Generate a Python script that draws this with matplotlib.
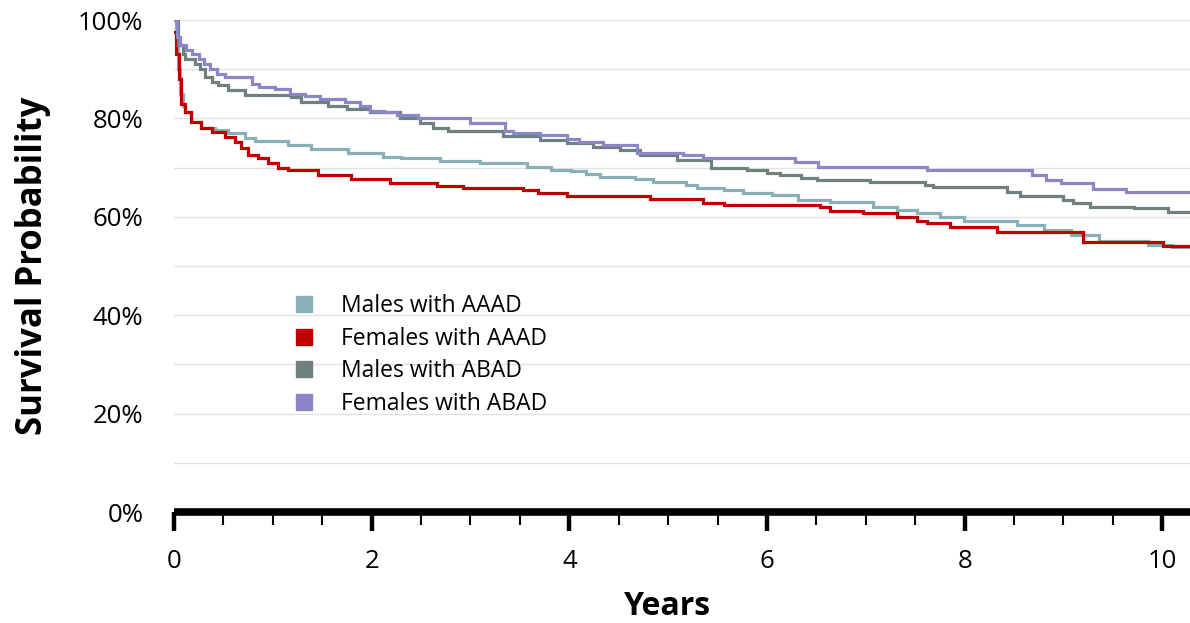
import matplotlib
matplotlib.use("Agg")
import matplotlib.pyplot as plt
from matplotlib.lines import Line2D
from matplotlib.ticker import MultipleLocator, FuncFormatter

plt.rcParams['font.family'] = ['Open Sans', 'DejaVu Sans']

# ---- data (years, survival %) : step functions ----
labels = ["Males with AAAD", "Females with AAAD", "Males with ABAD", "Females with ABAD"]
colors = ["#88b0b8", "#c00000", "#6e8080", "#8a86c8"]

m_aaad_t = [0.00, 0.02, 0.04, 0.06, 0.09, 0.11, 0.17, 0.27, 0.41, 0.55, 0.72, 0.82, 1.15, 1.39,
            1.76, 2.11, 2.30, 2.69, 3.10, 3.57, 3.81, 4.02, 4.17, 4.31, 4.66, 4.85, 5.18, 5.29,
            5.56, 5.76, 6.05, 6.31, 6.64, 7.07, 7.32, 7.52, 7.75, 7.99, 8.53, 8.80, 9.08, 9.36,
            9.85, 10.10]
m_aaad_s = [100.0, 96.0, 90.0, 85.0, 82.5, 81.3, 79.3, 78.0, 77.6, 77.0, 76.0, 75.4, 74.6, 73.8,
            73.0, 72.2, 72.0, 71.3, 71.0, 70.1, 69.5, 69.3, 68.8, 68.1, 67.7, 67.0, 66.5, 65.9,
            65.4, 64.8, 64.4, 63.4, 63.0, 62.0, 61.4, 60.8, 60.0, 59.2, 58.3, 57.3, 56.3, 55.0,
            54.3, 53.9]

f_aaad_t = [0.00, 0.02, 0.05, 0.07, 0.11, 0.17, 0.27, 0.38, 0.52, 0.62, 0.68, 0.75, 0.85, 0.95,
            1.05, 1.15, 1.46, 1.79, 2.19, 2.66, 2.92, 3.53, 3.68, 3.98, 4.82, 5.35, 5.56, 6.54,
            6.64, 6.97, 7.32, 7.52, 7.62, 7.85, 8.33, 9.20, 10.01]
f_aaad_s = [97.5, 93.0, 88.0, 83.0, 81.3, 79.3, 78.0, 77.2, 76.2, 75.2, 74.0, 72.5, 72.0, 71.0,
            70.0, 69.5, 68.5, 67.7, 66.9, 66.3, 65.9, 65.4, 64.9, 64.2, 63.6, 62.8, 62.4, 61.9,
            61.2, 60.8, 60.0, 59.2, 58.7, 57.9, 56.9, 54.9, 54.1]

m_abad_t = [0.00, 0.04, 0.09, 0.11, 0.21, 0.26, 0.31, 0.38, 0.45, 0.55, 0.72, 1.18, 1.29, 1.56,
            1.75, 1.98, 2.29, 2.49, 2.62, 2.77, 3.33, 3.70, 3.98, 4.24, 4.51, 4.72, 5.09, 5.43,
            5.80, 6.00, 6.13, 6.34, 6.51, 7.04, 7.60, 7.68, 8.43, 8.56, 9.00, 9.10, 9.27, 9.71,
            10.06]
m_abad_s = [100.0, 95.0, 93.0, 92.0, 91.0, 90.0, 88.5, 87.5, 86.8, 85.8, 84.8, 84.3, 83.3, 82.5,
            82.0, 81.3, 80.0, 79.0, 78.0, 77.4, 76.4, 75.6, 75.0, 74.2, 73.6, 72.5, 71.5, 70.0,
            69.5, 69.0, 68.5, 67.9, 67.5, 67.0, 66.5, 66.0, 65.0, 64.2, 63.4, 62.8, 62.0, 61.8,
            61.0]

f_abad_t = [0.00, 0.03, 0.06, 0.12, 0.18, 0.25, 0.30, 0.36, 0.44, 0.52, 0.79, 0.86, 1.02, 1.17,
            1.33, 1.48, 1.73, 1.88, 1.98, 2.12, 2.26, 2.47, 3.00, 3.35, 3.43, 3.70, 3.98, 4.10,
            4.34, 4.68, 5.15, 5.35, 6.28, 6.52, 7.62, 8.68, 8.82, 8.97, 9.30, 9.63]
f_abad_s = [100.0, 96.5, 95.0, 94.0, 93.0, 92.0, 91.0, 90.0, 89.0, 88.5, 87.0, 86.4, 86.0, 85.0,
            84.5, 84.0, 83.3, 82.5, 81.5, 81.2, 80.7, 80.0, 79.0, 77.4, 77.0, 76.6, 75.8, 75.2,
            74.6, 73.0, 72.5, 72.0, 71.1, 70.1, 69.5, 68.5, 67.5, 66.9, 65.7, 65.0]

x_max = 10.28
series = [(m_aaad_t, m_aaad_s), (f_aaad_t, f_aaad_s), (m_abad_t, m_abad_s), (f_abad_t, f_abad_s)]

fig = plt.figure(figsize=(11.9, 6.23), dpi=100)
ax = fig.add_axes([174 / 1190, 111 / 623, 1016 / 1190, 492 / 623])

for (t, s), c in zip(series, colors):
    ax.step(list(t) + [x_max], list(s) + [s[-1]], where='post', color=c, lw=2.3, zorder=3,
            solid_joinstyle='miter')

ax.set_xlim(0, x_max)
ax.set_ylim(0, 100)

ax.yaxis.set_major_locator(MultipleLocator(20))
ax.yaxis.set_minor_locator(MultipleLocator(10))
ax.yaxis.set_major_formatter(FuncFormatter(lambda v, p: f"{int(v)}%"))
ax.grid(True, which='both', axis='y', color='#e2e2e2', lw=1.0, zorder=0)
ax.tick_params(axis='y', which='both', length=0, pad=22, labelsize=18.5)

ax.xaxis.set_major_locator(MultipleLocator(2))
ax.xaxis.set_minor_locator(MultipleLocator(0.5))
ax.tick_params(axis='x', which='major', direction='out', length=14, width=3.2, pad=13,
               labelsize=18.5, color='black')
ax.tick_params(axis='x', which='minor', direction='out', length=9.5, width=1.5, color='black')

for side in ['top', 'right', 'left']:
    ax.spines[side].set_visible(False)
ax.spines['bottom'].set_linewidth(5.5)
ax.spines['bottom'].set_color('black')
ax.spines['bottom'].set_capstyle('butt')

ax.set_xlabel("Years", fontsize=23, fontweight='bold', va='center')
ax.xaxis.set_label_coords(0.486, -0.193)
ax.set_ylabel("Survival Probability", fontsize=25, fontweight='bold', va='center')
ax.yaxis.set_label_coords(-0.139, 0.5)

handles = [Line2D([], [], marker='s', linestyle='none', markersize=11, color=c) for c in colors]
ax.legend(handles, labels, loc='upper left', bbox_to_anchor=(0.108, 0.462), frameon=False,
          fontsize=16.5, handletextpad=1.1, labelspacing=0.38, borderaxespad=0, handlelength=1.0)

fig.savefig("out.png", dpi=100)
